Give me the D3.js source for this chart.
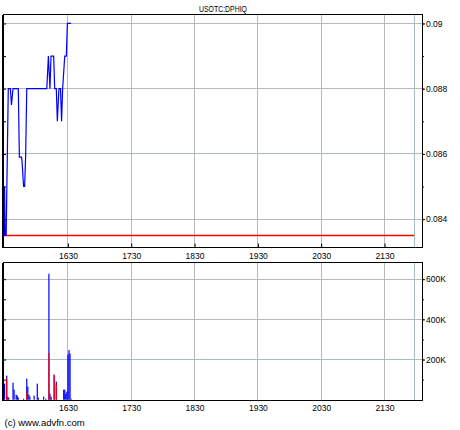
<!DOCTYPE html>
<html>
<head>
<meta charset="utf-8">
<script src="https://cdn.jsdelivr.net/npm/d3@7"></script>
<style>
  body { margin: 0; background: #fff; }
  text { font-family: "Liberation Sans", Arial, sans-serif; fill: #000; }
  .crisp { shape-rendering: crispEdges; }
</style>
</head>
<body>
<script>
// data (minutes since midnight)
var priceTimes = [929, 929.5, 930, 930.5, 931.5, 933.5, 935.5, 936.5, 938, 943, 944, 946, 946.5, 948, 949, 950, 951,
                  970, 971.5, 973, 974, 976.5, 977.5, 979, 980, 981.5, 983, 984, 985, 987, 988.5, 989.5, 993];
var prices = [0.0850, 0.0835, 0.0850, 0.0835, 0.0835, 0.0880, 0.0880, 0.0875, 0.0880, 0.0880, 0.0859, 0.0859, 0.0858, 0.0850, 0.0850, 0.0860, 0.0880,
              0.0880, 0.0890, 0.0880, 0.0890, 0.0890, 0.0880, 0.0880, 0.0870, 0.0880, 0.0880, 0.0870, 0.0880, 0.0890, 0.0890, 0.0900, 0.0900];
var prevClose = 0.0835;

var volTimes = [930, 932, 933, 934, 938, 939, 941, 942, 943, 948, 951, 952, 953, 954, 958, 961, 962, 967, 969,
                972, 973, 974, 977, 979, 986, 987, 988, 989, 990, 991, 992, 993];
var volTotal = [80000, 120000, 15000, 10000, 85000, 50000, 25000, 20000, 10000, 5000, 105000, 65000, 25000, 15000, 20000, 80000, 10000, 15000, 5000,
                627000, 30000, 15000, 125000, 90000, 50000, 50000, 30000, 40000, 225000, 247000, 230000, 5000];
var volRed = [0, 103000, 12000, 0, 0, 0, 0, 0, 0, 0, 35000, 0, 0, 0, 0, 0, 0, 0, 0,
              231000, 0, 8000, 122000, 75000, 0, 0, 0, 0, 0, 0, 0, 0];

var hourTicks = [990, 1050, 1110, 1170, 1230, 1290];
var priceTicks = [0.084, 0.086, 0.088, 0.09];
var priceMinor = [0.084, 0.085, 0.086, 0.087, 0.088, 0.089, 0.09];
var volTicks = [200000, 400000, 600000];
var volMinor = [100000, 200000, 300000, 400000, 500000, 600000];
var closeTime = 1318;

var W = 460, H = 430;
var left = 3, right = 422;
var pTop = 14.5, pBot = 247.5, vTop = 262.5, vBot = 400.5;

var svg = d3.select("body").append("svg")
    .attr("width", W)
    .attr("height", H);

var x = d3.scaleLinear().domain([928.5, 1325.5]).range([left, right]);
var yP = d3.scaleLinear().domain([0.08313, 0.090275]).range([pBot, pTop]);
var yV = d3.scaleLinear().domain([0, 683000]).range([vBot - 0.8, vTop]);

var hhmm = function(m) { return String(Math.floor(m / 60)) + String(m % 60).padStart(2, "0"); };
var gridGray = "#b8b8b8", gridBlue = "#a3bcc0";

// title
svg.append("text")
    .attr("x", 223).attr("y", 11.5)
    .attr("text-anchor", "middle")
    .attr("textLength", 48).attr("lengthAdjust", "spacingAndGlyphs")
    .style("font-size", "9.5px")
    .text("USOTC:DPHIQ");

// ---- price panel
var gp = svg.append("g");

gp.selectAll(".hgrid").data(priceTicks).enter().append("line")
    .attr("class", "crisp")
    .attr("x1", left).attr("x2", right)
    .attr("y1", d => yP(d)).attr("y2", d => yP(d))
    .attr("stroke", d => d === 0.086 ? gridBlue : gridGray);

gp.selectAll(".vgrid").data(hourTicks).enter().append("line")
    .attr("class", "crisp")
    .attr("x1", d => x(d)).attr("x2", d => x(d))
    .attr("y1", pTop).attr("y2", pBot)
    .attr("stroke", gridGray);

gp.append("line")
    .attr("class", "crisp")
    .attr("x1", x(closeTime)).attr("x2", x(closeTime))
    .attr("y1", pTop).attr("y2", pBot)
    .attr("stroke", gridBlue);

// previous close
gp.append("line")
    .attr("x1", left).attr("x2", x(closeTime))
    .attr("y1", yP(prevClose)).attr("y2", yP(prevClose))
    .attr("stroke", "#ff0000").attr("stroke-width", 1.5);

var line = d3.line()
    .x((d, i) => x(priceTimes[i]))
    .y(d => yP(d));

gp.append("path")
    .datum(prices)
    .attr("d", line)
    .attr("fill", "none")
    .attr("stroke", "#0000ff")
    .attr("stroke-width", 1.2);

gp.append("rect")
    .attr("class", "crisp")
    .attr("x", left).attr("y", pTop)
    .attr("width", right - left).attr("height", pBot - pTop)
    .attr("fill", "none").attr("stroke", "#000");
gp.append("line")
    .attr("class", "crisp")
    .attr("x1", left).attr("x2", left).attr("y1", pTop).attr("y2", pBot)
    .attr("stroke", "#000").attr("stroke-width", 2);

gp.append("g")
    .attr("transform", "translate(" + right + ",0)")
    .call(d3.axisRight(yP).tickValues(priceMinor).tickSize(2).tickSizeOuter(0).tickFormat(""))
    .call(g => g.select(".domain").remove());
gp.append("g")
    .attr("transform", "translate(" + right + ",0)")
    .call(d3.axisRight(yP).tickValues(priceTicks).tickSize(3).tickPadding(1).tickSizeOuter(0)
          .tickFormat(d => String(+d.toFixed(3))))
    .call(g => g.select(".domain").remove())
    .call(g => g.selectAll("text").style("font-size", "8.5px").attr("fill", "#000"));
gp.append("g")
    .attr("transform", "translate(" + left + ",0)")
    .call(d3.axisLeft(yP).tickValues(priceMinor).tickSize(-3).tickSizeOuter(0).tickFormat(""))
    .call(g => g.select(".domain").remove());
gp.append("g")
    .attr("transform", "translate(0," + pBot + ")")
    .call(d3.axisBottom(x).tickValues(hourTicks).tickSize(-4).tickPadding(5).tickSizeOuter(0).tickFormat(hhmm))
    .call(g => g.select(".domain").remove())
    .call(g => g.selectAll("text").style("font-size", "8.5px").attr("fill", "#000"));

// ---- volume panel
var gv = svg.append("g");

gv.selectAll(".hgrid").data(volTicks).enter().append("line")
    .attr("class", "crisp")
    .attr("x1", left).attr("x2", right)
    .attr("y1", d => yV(d)).attr("y2", d => yV(d))
    .attr("stroke", d => d === 200000 ? gridBlue : gridGray);

gv.selectAll(".vgrid").data(hourTicks).enter().append("line")
    .attr("class", "crisp")
    .attr("x1", d => x(d)).attr("x2", d => x(d))
    .attr("y1", vTop).attr("y2", vBot)
    .attr("stroke", gridGray);

gv.append("line")
    .attr("class", "crisp")
    .attr("x1", x(closeTime)).attr("x2", x(closeTime))
    .attr("y1", vTop).attr("y2", vBot)
    .attr("stroke", gridBlue);

gv.selectAll(".vol").data(volTotal).enter().append("rect")
    .attr("x", (d, i) => x(volTimes[i]) - 0.6)
    .attr("width", 1.2)
    .attr("y", d => yV(d))
    .attr("height", d => yV(0) - yV(d))
    .attr("fill", "#0000ff");

gv.selectAll(".volr").data(volRed).enter().append("rect")
    .attr("x", (d, i) => x(volTimes[i]) - 0.6)
    .attr("width", 1.2)
    .attr("y", d => yV(d))
    .attr("height", d => yV(0) - yV(d))
    .attr("fill", "#ff0000");

gv.append("rect")
    .attr("class", "crisp")
    .attr("x", left).attr("y", vTop)
    .attr("width", right - left).attr("height", vBot - vTop)
    .attr("fill", "none").attr("stroke", "#000");
gv.append("line")
    .attr("class", "crisp")
    .attr("x1", left).attr("x2", left).attr("y1", vTop).attr("y2", vBot)
    .attr("stroke", "#000").attr("stroke-width", 2);

gv.append("g")
    .attr("transform", "translate(" + right + ",0)")
    .call(d3.axisRight(yV).tickValues(volMinor).tickSize(2).tickSizeOuter(0).tickFormat(""))
    .call(g => g.select(".domain").remove());
gv.append("g")
    .attr("transform", "translate(" + right + ",0)")
    .call(d3.axisRight(yV).tickValues(volTicks).tickSize(3).tickPadding(1).tickSizeOuter(0)
          .tickFormat(d => (d / 1000) + "K"))
    .call(g => g.select(".domain").remove())
    .call(g => g.selectAll("text").style("font-size", "8.5px").attr("fill", "#000"));
gv.append("g")
    .attr("transform", "translate(" + left + ",0)")
    .call(d3.axisLeft(yV).tickValues(volMinor).tickSize(-3).tickSizeOuter(0).tickFormat(""))
    .call(g => g.select(".domain").remove());
gv.append("g")
    .attr("transform", "translate(0," + vBot + ")")
    .call(d3.axisBottom(x).tickValues(hourTicks).tickSize(0).tickPadding(4).tickSizeOuter(0).tickFormat(hhmm))
    .call(g => g.select(".domain").remove())
    .call(g => g.selectAll("text").style("font-size", "8.5px").attr("fill", "#000"));

svg.append("text")
    .attr("x", 4.5).attr("y", 426)
    .style("font-size", "9.5px")
    .text("(c) www.advfn.com");
</script>
</body>
</html>
